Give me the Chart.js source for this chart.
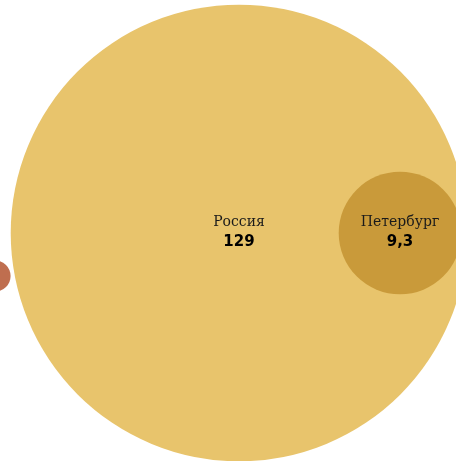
<!DOCTYPE html>
<html>
<head>
<meta charset="utf-8">
<script src="https://cdn.jsdelivr.net/npm/chart.js@4/dist/chart.umd.min.js"></script>
<style>
  html, body { margin: 0; padding: 0; background: #fff; }
  #wrap { width: 456px; height: 461px; }
</style>
</head>
<body>
<div id="wrap"><canvas id="bubbles"></canvas></div>
<script>
const labels = ["Россия", "Петербург", ""];
const values = [129, 9.3, 0.6];
const valueText = ["129", "9,3", ""];

// bubble centres (packed layout, in pixels)
const centerX = [239, 400, -5];
const centerY = [233, 233, 276];
const colors = ["#e8c46c", "#c99a3a", "#bf6e4f"];
const SCALE = 20.1; // px radius per sqrt(value)

const labelPlugin = {
    id: "bubbleLabels",
    afterDatasetsDraw(chart) {
        const ctx = chart.ctx;
        const meta = chart.getDatasetMeta(0);
        ctx.save();
        ctx.textAlign = "center";
        ctx.textBaseline = "middle";
        meta.data.forEach((el, i) => {
            if (!labels[i]) return;
            ctx.fillStyle = "#1a1a1a";
            ctx.font = "14px 'DejaVu Serif'";
            ctx.fillText(labels[i], el.x, el.y - 11);
            ctx.fillStyle = "#000";
            ctx.font = "bold 15px 'DejaVu Sans'";
            ctx.fillText(valueText[i], el.x, el.y + 9);
        });
        ctx.restore();
    }
};

new Chart(document.getElementById("bubbles"), {
    type: "bubble",
    data: {
        datasets: [{
            data: values.map((v, i) => ({ x: centerX[i], y: centerY[i], r: SCALE * Math.sqrt(v) })),
            backgroundColor: colors,
            borderWidth: 0,
            hoverBorderWidth: 0
        }]
    },
    options: {
        responsive: true,
        maintainAspectRatio: false,
        animation: false,
        clip: false,
        layout: { padding: 0, autoPadding: false },
        plugins: { legend: { display: false }, tooltip: { enabled: false } },
        scales: {
            x: { type: "linear", min: 0, max: 456, display: false },
            y: { type: "linear", min: 0, max: 461, reverse: true, display: false }
        }
    },
    plugins: [labelPlugin]
});
</script>
</body>
</html>
